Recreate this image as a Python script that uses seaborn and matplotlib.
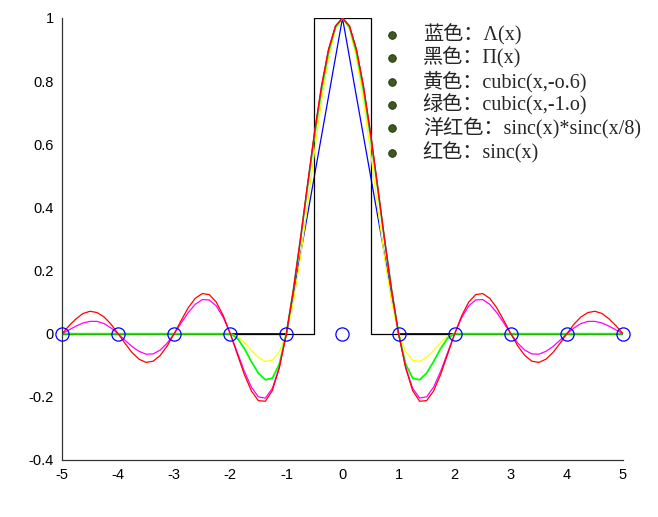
"""Interpolation kernels: triangle, box, cubic and sinc, sampled on [-5, 5]."""

import numpy as np
import matplotlib
matplotlib.use("Agg")
import matplotlib.pyplot as plt
import seaborn as sns

# sample grid (step 1/8) and values
x_grid = np.linspace(-5, 5, 81)

sinc_vals = [
    0, 0.025, 0.047, 0.064, 0.071, 0.067, 0.053, 0.030,
    0, -0.031, -0.060, -0.081, -0.091, -0.087, -0.069, -0.039,
    0, 0.042, 0.082, 0.112, 0.127, 0.124, 0.100, 0.057,
    0, -0.065, -0.129, -0.181, -0.212, -0.214, -0.180, -0.108,
    0, 0.139, 0.300, 0.471, 0.637, 0.784, 0.900, 0.975,
    1,
    0.975, 0.900, 0.784, 0.637, 0.471, 0.300, 0.139, 0,
    -0.108, -0.180, -0.214, -0.212, -0.181, -0.129, -0.065, 0,
    0.057, 0.100, 0.124, 0.127, 0.112, 0.082, 0.042, 0,
    -0.039, -0.069, -0.087, -0.091, -0.081, -0.060, -0.031, 0,
    0.030, 0.053, 0.067, 0.071, 0.064, 0.047, 0.025, 0,
]

sinc8_vals = [
    0, 0.012, 0.024, 0.034, 0.039, 0.039, 0.032, 0.018,
    0, -0.021, -0.041, -0.056, -0.065, -0.064, -0.052, -0.030,
    0, 0.034, 0.067, 0.093, 0.108, 0.107, 0.088, 0.051,
    0, -0.059, -0.119, -0.169, -0.200, -0.204, -0.173, -0.105,
    0, 0.136, 0.296, 0.466, 0.633, 0.781, 0.899, 0.974,
    1,
    0.974, 0.899, 0.781, 0.633, 0.466, 0.296, 0.136, 0,
    -0.105, -0.173, -0.204, -0.200, -0.169, -0.119, -0.059, 0,
    0.051, 0.088, 0.107, 0.108, 0.093, 0.067, 0.034, 0,
    -0.030, -0.052, -0.064, -0.065, -0.056, -0.041, -0.021, 0,
    0.018, 0.032, 0.039, 0.039, 0.034, 0.024, 0.012, 0,
]

cubic06_vals = [
    0, 0, 0, 0, 0, 0, 0, 0,
    0, 0, 0, 0, 0, 0, 0, 0,
    0, 0, 0, 0, 0, 0, 0, 0,
    0, -0.008, -0.028, -0.053, -0.075, -0.088, -0.084, -0.057,
    0, 0.100, 0.241, 0.404, 0.575, 0.736, 0.872, 0.965,
    1,
    0.965, 0.872, 0.736, 0.575, 0.404, 0.241, 0.100, 0,
    -0.057, -0.084, -0.088, -0.075, -0.053, -0.028, -0.008, 0,
    0, 0, 0, 0, 0, 0, 0, 0,
    0, 0, 0, 0, 0, 0, 0, 0,
    0, 0, 0, 0, 0, 0, 0, 0,
]

cubic10_vals = [
    0, 0, 0, 0, 0, 0, 0, 0,
    0, 0, 0, 0, 0, 0, 0, 0,
    0, 0, 0, 0, 0, 0, 0, 0,
    0, -0.014, -0.047, -0.088, -0.125, -0.146, -0.141, -0.096,
    0, 0.139, 0.297, 0.463, 0.625, 0.771, 0.891, 0.971,
    1,
    0.971, 0.891, 0.771, 0.625, 0.463, 0.297, 0.139, 0,
    -0.096, -0.141, -0.146, -0.125, -0.088, -0.047, -0.014, 0,
    0, 0, 0, 0, 0, 0, 0, 0,
    0, 0, 0, 0, 0, 0, 0, 0,
    0, 0, 0, 0, 0, 0, 0, 0,
]

tri_x = [-5, -1, 0, 1, 5]
tri_y = [0, 0, 1, 0, 0]
box_x = [-5, -0.5, -0.5, 0.5, 0.5, 5]
box_y = [0, 0, 1, 1, 0, 0]
sample_x = [-5, -4, -3, -2, -1, 0, 1, 2, 3, 4, 5]
sample_y = [0, 0, 0, 0, 0, 0, 0, 0, 0, 0, 0]

legend_labels = [
    "蓝色：Λ(x)",
    "黑色：Π(x)",
    "黄色：cubic(x,-o.6)",
    "绿色：cubic(x,-1.o)",
    "洋红色：sinc(x)*sinc(x/8)",
    "红色：sinc(x)",
]
legend_y = [0.946, 0.873, 0.797, 0.724, 0.650, 0.572]

x_ticks = [-5, -4, -3, -2, -1, 0, 1, 2, 3, 4, 5]
y_ticks = [-0.4, -0.2, 0, 0.2, 0.4, 0.6, 0.8, 1]
y_tick_labels = ["-0.4", "-0.2", "0", "0.2", "0.4", "0.6", "0.8", "1"]

sns.set_style("white")
plt.rcParams["font.family"] = ["Liberation Sans", "Noto Sans CJK SC"]
plt.rcParams["axes.unicode_minus"] = False

fig = plt.figure(figsize=(6.58, 5.17), dpi=100)
ax = fig.add_axes([0.0942, 0.1103, 0.8526, 0.8549])

lw = 0.9
sns.lineplot(x=tri_x, y=tri_y, color="#0000ff", lw=lw, ax=ax,
             estimator=None, sort=False)
sns.lineplot(x=box_x, y=box_y, color="black", lw=lw, ax=ax,
             estimator=None, sort=False)
sns.lineplot(x=x_grid, y=cubic06_vals, color="#ffff00", lw=lw, ax=ax,
             estimator=None, sort=False)
sns.lineplot(x=x_grid, y=cubic10_vals, color="#00ff00", lw=1.3, ax=ax,
             estimator=None, sort=False)
sns.lineplot(x=x_grid, y=sinc8_vals, color="#ff00ff", lw=lw, ax=ax,
             estimator=None, sort=False)
sns.lineplot(x=x_grid, y=sinc_vals, color="#ff0000", lw=lw, ax=ax,
             estimator=None, sort=False)
ax.plot(sample_x, sample_y, ls="none", marker="o", ms=9.5,
        mfc="none", mec="#0000ff", mew=0.9, clip_on=False, zorder=5)

# label list with ball bullets
ax.plot([0.88] * len(legend_y), legend_y, ls="none", marker="o", ms=5.5,
        mfc="#3b5a1c", mec="#1e2e0c", mew=0.6)
for yy, lab in zip(legend_y, legend_labels):
    ax.text(1.43, yy, lab, fontsize=14.5, va="center", ha="left",
            family=["Liberation Serif", "Noto Sans CJK SC"])

ax.set_xlim(-5, 5)
ax.set_ylim(-0.4, 1)
ax.set_xticks(x_ticks)
ax.set_xticklabels([str(t) for t in x_ticks])
ax.set_yticks(y_ticks)
ax.set_yticklabels(y_tick_labels)
ax.tick_params(direction="in", length=4, width=0.8, colors="#333333",
               labelsize=10.5, labelcolor="black", pad=6)
for side in ("top", "right"):
    ax.spines[side].set_visible(False)
for side in ("left", "bottom"):
    ax.spines[side].set_color("#333333")
    ax.spines[side].set_linewidth(0.9)

fig.savefig("out.png", dpi=100)
plt.close(fig)
